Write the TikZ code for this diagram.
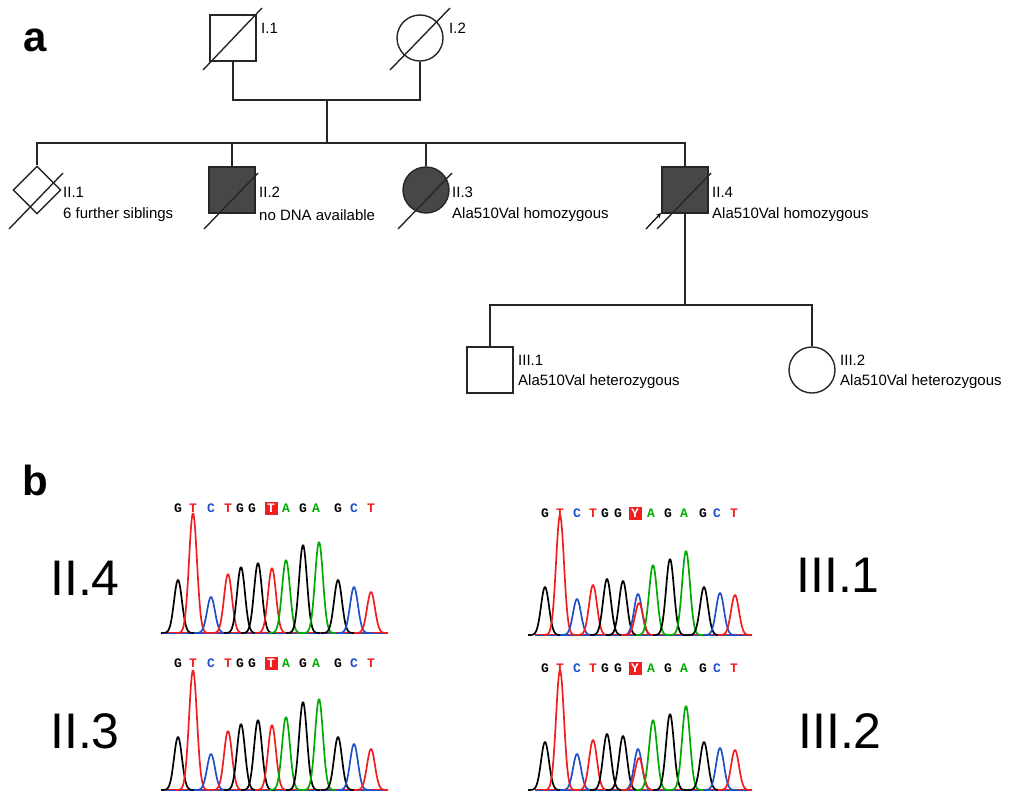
\documentclass[tikz,border=0pt]{standalone}
\usepackage{fontspec}
\usetikzlibrary{shapes.geometric}
\setmainfont{Liberation Sans}
\newfontfamily\monof{Liberation Mono}
\begin{document}
\begin{tikzpicture}[x=1pt,y=-1pt,
  ped/.style={draw=black!85,line width=1.4pt},
  aff/.style={ped,fill=black!72},
  lab/.style={anchor=west,font=\fontsize{15}{17}\selectfont,inner sep=0pt},
  big/.style={font=\fontsize{50}{56}\selectfont,inner sep=0pt},
  ltr/.style={font=\monof\bfseries\fontsize{13}{13}\selectfont,inner sep=0pt}]
\definecolor{pg}{RGB}{0,170,0}\definecolor{pb}{RGB}{30,80,200}\definecolor{pr}{RGB}{240,30,30}
\useasboundingbox (0,0) rectangle (1024,803);
\newcommand\pk[3]{\draw[#3,line width=1.7pt] plot[domain=#1-17:#1+17,samples=40] (\x,{-#2*exp(-((\x-#1)/5.6)^2)});}
% letters a b
\node[font=\bfseries\fontsize{42}{44}\selectfont,inner sep=0pt] (la) at (35,40) {a};
\node[font=\bfseries\fontsize{42}{44}\selectfont,inner sep=0pt] (lb) at (35,480) {b};
% generation I
\node[ped,rectangle,minimum size=46pt,inner sep=0pt] (i1) at (233,38) {};
\node[ped,circle,minimum size=46pt,inner sep=0pt] (i2) at (420,38) {};
\draw[ped] (203,70)--(262,8);
\draw[ped] (390,70)--(450,8);
\node[lab] (ti1) at (261,28) {I.1};
\node[lab] (ti2) at (449,28) {I.2};
\coordinate (m1) at (233,100); \coordinate (m2) at (420,100); \coordinate (mc) at (327,100);
\coordinate (sc) at (327,143);
\draw[ped] (i1.south)--(m1)--(m2)--(i2.south);
\draw[ped] (mc)--(sc);
% generation II
\node[ped,diamond,minimum size=48pt,inner sep=0pt] (ii1) at (37,190) {};
\node[aff,rectangle,minimum size=46pt,inner sep=0pt] (ii2) at (232,190) {};
\node[aff,circle,minimum size=46pt,inner sep=0pt] (ii3) at (426,190) {};
\node[aff,rectangle,minimum size=46pt,inner sep=0pt] (ii4) at (685,190) {};
\foreach \c in {37,232,426,685}{\draw[ped] (\c-28,229)--(\c+26,173);}
\coordinate (s1) at (37,143); \coordinate (s4) at (685,143);
\draw[ped] (ii1.north)--(s1)--(s4)--(ii4.north);
\draw[ped] (ii2.north)--(232,143);
\draw[ped] (ii3.north)--(426,143);
\draw[black,line width=1.2pt,-stealth] (646,229)--(661,213);
\node[lab] at (63,192) {II.1}; \node[lab] at (63,215) {6 further siblings};
\node[lab] at (259,192) {II.2}; \node[lab] at (259,215) {no DNA available};
\node[lab] at (452,192) {II.3}; \node[lab] at (452,215) {Ala510Val homozygous};
\node[lab] at (712,192) {II.4}; \node[lab] at (712,215) {Ala510Val homozygous};
% generation III
\coordinate (t1) at (490,305); \coordinate (t2) at (812,305); \coordinate (tc) at (685,305);
\node[ped,rectangle,minimum size=46pt,inner sep=0pt] (iii1) at (490,370) {};
\node[ped,circle,minimum size=46pt,inner sep=0pt] (iii2) at (812,370) {};
\draw[ped] (ii4.south)--(tc);
\draw[ped] (iii1.north)--(t1)--(t2)--(iii2.north);
\node[lab] at (518,360) {III.1}; \node[lab] at (518,382) {Ala510Val heterozygous};
\node[lab] at (840,360) {III.2}; \node[lab] at (840,382) {Ala510Val heterozygous};
% big labels
\node[big] at (85,578) {II.4};
\node[big] at (85,731) {II.3};
\node[big] at (838,575) {III.1};
\node[big] at (840,731) {III.2};
% chromatograms: homozygous
\foreach \by/\ly in {633/508,790/663}{
\begin{scope}[shift={(0,\by)}]
\draw[pb,line width=1.4pt] (165,0)--(385,0);
\draw[pr,line width=1pt] (165,-1)--(385,-1);
\pk{178}{53}{black}\pk{193}{120}{pr}\pk{211}{36}{pb}\pk{228}{59}{pr}
\pk{241}{66}{black}\pk{258}{70}{black}\pk{272}{65}{pr}\pk{286}{73}{pg}
\pk{303}{88}{black}\pk{319}{91}{pg}\pk{338}{53}{black}\pk{354}{46}{pb}\pk{371}{41}{pr}
\end{scope}
\begin{scope}[shift={(0,\ly)}]
\foreach \xx/\cc/\ll in {178/black/G,193/pr/T,211/pb/C,228/pr/T,240/black/G,252/black/G,303/black/G,286/pg/A,316/pg/A,338/black/G,354/pb/C,371/pr/T}
 {\node[ltr,text=\cc] at (\xx,0) {\ll};}
\node[ltr,fill=pr,text=white,minimum size=13pt] at (271,0) {T};
\end{scope}}
% chromatograms: heterozygous
\foreach \by/\ly in {635/513,790/668}{
\begin{scope}[shift={(0,\by)}]
\draw[pb,line width=1.4pt] (535,0)--(750,0);
\draw[pr,line width=1pt] (535,-1)--(750,-1);
\pk{545}{48}{black}\pk{560}{120}{pr}\pk{577}{36}{pb}\pk{593}{50}{pr}
\pk{607}{56}{black}\pk{623}{54}{black}\pk{638}{41}{pb}\pk{639}{32}{pr}
\pk{653}{70}{pg}\pk{670}{76}{black}\pk{686}{84}{pg}\pk{704}{48}{black}\pk{720}{42}{pb}\pk{735}{40}{pr}
\end{scope}
\begin{scope}[shift={(0,\ly)}]
\foreach \xx/\cc/\ll in {545/black/G,560/pr/T,577/pb/C,593/pr/T,605/black/G,618/black/G,651/pg/A,668/black/G,684/pg/A,703/black/G,717/pb/C,734/pr/T}
 {\node[ltr,text=\cc] at (\xx,0) {\ll};}
\node[ltr,fill=pr,text=white,minimum size=13pt] at (635,0) {Y};
\end{scope}}
\end{tikzpicture}
\end{document}
